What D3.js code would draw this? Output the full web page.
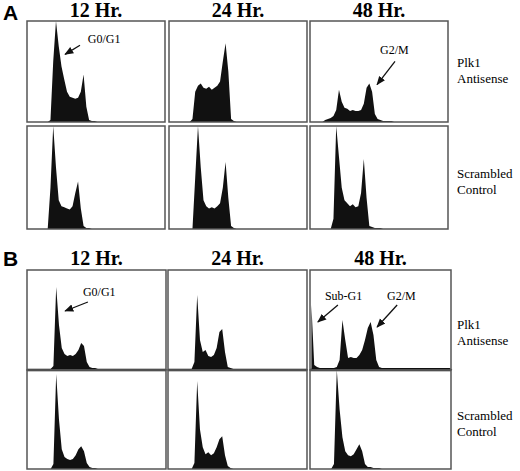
<!DOCTYPE html>
<html>
<head>
<meta charset="utf-8">
<script src="https://cdn.jsdelivr.net/npm/d3@7"></script>
<style>
  body { margin: 0; background: #fff; }
</style>
</head>
<body>
<div id="chart"></div>
<script>
// time points and treatments
var times = ["12 Hr.", "24 Hr.", "48 Hr."];
var rowLabels = [["Plk1", "Antisense"], ["Scrambled", "Control"]];

// DNA content histograms, % of max count per bin (50 bins)
var a12_anti = [0,0,0,0,0,0,0,0,2,60,100,75,55,42,30,25,24,23,24,30,47,15,2,1,1,0];
var a24_anti = [0,0,0,0,0,0,0,0,3,30,36,38,34,33,35,32,34,36,40,60,78,50,3,1,0];
var a48_anti = [0,0,0,0,0,2,3,4,6,12,32,20,14,13,11,12,11,11,12,18,34,38,30,8,3,2,1,1,1,1,0];
var a12_scr  = [0,0,0,0,0,0,0,0,40,100,60,28,22,21,20,19,22,35,46,20,3,1,1,0];
var a24_scr  = [0,0,0,0,0,0,0,0,0,50,100,60,28,22,20,21,20,22,25,40,65,30,3,1,0];
var a48_scr  = [0,0,0,0,0,0,0,0,10,100,70,40,28,25,22,24,21,22,35,68,30,3,2,1,1,1,0];
var b12_anti = [0,0,0,0,0,0,0,1,1,4,83,45,22,16,14,15,14,16,20,27,24,8,3,2,2,1,1,1,1,1,1,1,1,1,1,1,1,1,1,1,1,1,1,1,1,1,1,1,1,1];
var b24_anti = [0,0,0,0,0,0,0,0,1,8,75,30,18,20,14,13,15,22,38,41,18,3,2,1,1,1,1,1,1,1,1,1,1,1,1,1,1,1,1,1,1,1,1,1,1,1,1,1,1,1];
var b48_anti = [65,5,3,2,2,2,2,2,2,3,10,50,30,12,13,12,12,15,20,30,42,48,35,10,3,2,2,2,2,2,2,2,2,2,2,2,2,2,2,2,2,2,2,2,2,2,2,2,2,2];
var b12_scr  = [0,0,0,0,0,0,0,0,0,5,96,50,20,12,10,9,10,14,20,23,18,6,2,1,1,0];
var b24_scr  = [0,0,0,0,0,0,0,0,0,6,89,40,22,15,17,14,16,22,30,33,14,3,1,0];
var b48_scr  = [0,0,0,0,0,0,0,0,5,100,60,32,18,14,13,15,20,25,18,5,2,2,1,1,1,0];

var panelA = [[a12_anti, a24_anti, a48_anti], [a12_scr, a24_scr, a48_scr]];
var panelB = [[b12_anti, b24_anti, b48_anti], [b12_scr, b24_scr, b48_scr]];

// annotations: [row, col, text, textBin, textPct, fromBin, fromPct, toBin, toPct]
var notesA = [[0, 0, "G0/G1", 22, 78, 19.2, 76, 13.8, 67],
              [0, 2, "G2/M", 25.4, 67, 30.8, 60, 24.3, 37]];
var notesB = [[0, 0, "G0/G1", 20.1, 74, 21.9, 68, 13.7, 59],
              [0, 2, "Sub-G1", 5.3, 70, 9.9, 65, 2.8, 48],
              [0, 2, "G2/M", 27.3, 70, 30.9, 65, 23.8, 43]];

var svg = d3.select("#chart").append("svg")
  .attr("width", 520).attr("height", 471);

svg.append("defs").append("marker")
  .attr("id", "arr").attr("viewBox", "0 0 10 10")
  .attr("refX", 9).attr("refY", 5)
  .attr("markerWidth", 7).attr("markerHeight", 7)
  .attr("orient", "auto")
  .append("path").attr("d", "M0,1 L10,5 L0,9 Z").attr("fill", "#111");

function drawPanel(letter, data, notes, cfg) {
  svg.append("text").attr("x", 3).attr("y", cfg.letterY)
    .style("font", "bold 21px 'Liberation Sans', Arial, sans-serif").text(letter);

  cfg.cols.forEach(function(c, j) {
    svg.append("text").attr("x", (c[0] + c[1]) / 2).attr("y", cfg.headY)
      .attr("text-anchor", "middle")
      .style("font", "bold 20px 'Liberation Serif', 'Times New Roman', serif")
      .text(times[j]);
  });

  cfg.rows.forEach(function(r, i) {
    var lab = svg.append("text").attr("x", 457).attr("y", r.labelY)
      .style("font", "13px 'Liberation Serif', serif");
    lab.append("tspan").attr("x", 457).text(rowLabels[i][0]);
    lab.append("tspan").attr("x", 457).attr("dy", 16).text(rowLabels[i][1]);

    cfg.cols.forEach(function(c, j) {
      var x = d3.scaleLinear().domain([0, 50]).range([c[0], c[1]]);
      var y = d3.scaleLinear().domain([0, 100]).range([r.y1, r.y0]);
      var vals = data[i][j];

      var area = d3.area()
        .x(function(d, k) { return x(k + 0.5); })
        .y0(y(0))
        .y1(function(d) { return y(d); });

      svg.append("path").datum(vals.concat([0]))
        .attr("d", area).attr("fill", "#111");

      if (cfg.thickBase && i == 0) {
        svg.append("line").attr("x1", c[0]).attr("x2", c[1])
          .attr("y1", r.y1).attr("y2", r.y1)
          .attr("stroke", "#111").attr("stroke-width", 2.5);
      }

      svg.append("rect").attr("x", c[0]).attr("y", r.y0)
        .attr("width", c[1] - c[0]).attr("height", r.y1 - r.y0)
        .attr("fill", "none").attr("stroke", "#555").attr("stroke-width", 1.5);

      notes.filter(function(n) { return n[0] == i && n[1] == j; }).forEach(function(n) {
        svg.append("text").attr("x", x(n[3])).attr("y", y(n[4]))
          .style("font", "12px 'Liberation Serif', serif").text(n[2]);
        svg.append("line")
          .attr("x1", x(n[5])).attr("y1", y(n[6]))
          .attr("x2", x(n[7])).attr("y2", y(n[8]))
          .attr("stroke", "#111").attr("stroke-width", 1.3)
          .attr("marker-end", "url(#arr)");
      });
    });
  });
}

drawPanel("A", panelA, notesA, {
  letterY: 20, headY: 17,
  cols: [[27, 165], [169, 307], [310, 448]],
  rows: [{y0: 21, y1: 122, labelY: 67}, {y0: 126, y1: 229, labelY: 178}],
  thickBase: false
});

drawPanel("B", panelB, notesB, {
  letterY: 266, headY: 265,
  cols: [[27, 166], [168, 307], [310, 451]],
  rows: [{y0: 270, y1: 370, labelY: 329}, {y0: 370, y1: 469, labelY: 420}],
  thickBase: true
});
</script>
</body>
</html>
